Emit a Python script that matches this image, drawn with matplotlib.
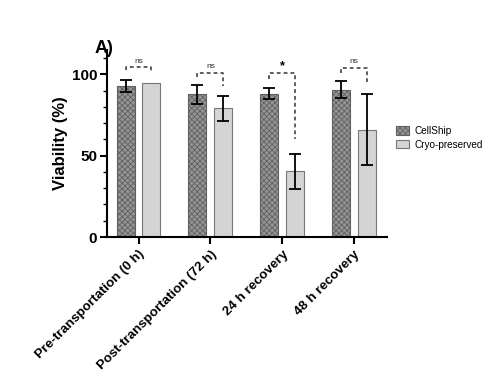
import matplotlib
matplotlib.use("Agg")
import matplotlib.pyplot as plt
import numpy as np
from matplotlib.ticker import MultipleLocator

# data
groups = ["Pre-transportation (0 h)", "Post-transportation (72 h)", "24 h recovery", "48 h recovery"]
cellship = [92.8, 87.6, 88.1, 90.4]
cellship_err = [3.4, 5.7, 3.3, 5.2]
cryo = [94.4, 79.0, 40.3, 65.8]
cryo_err = [0.0, 7.8, 10.5, 21.8]
sig_labels = ["ns", "ns", "*", "ns"]
bracket_top = [104.5, 101.0, 100.5, 104.0]
bracket_left_end = [102.5, 98.5, 97.0, 101.0]
bracket_right_end = [102.0, 93.0, 60.0, 95.5]

plt.rcParams['font.family'] = ['Arial', 'Liberation Sans', 'DejaVu Sans']
plt.rcParams['hatch.linewidth'] = 0.6
plt.rcParams['hatch.color'] = '#505050'

fig = plt.figure(figsize=(5.02, 3.78), dpi=100)
ax = fig.add_axes([0.213, 0.373, 0.558, 0.495])

x = np.arange(len(groups))
w = 0.25
off = 0.18

ax.bar(x - off, cellship, w, color='#959595', edgecolor='#606060', hatch='xxxxxx', linewidth=0.8,
       label='CellShip')
ax.bar(x + off, cryo, w, color='#d4d4d4', edgecolor='#777777', linewidth=0.8,
       label='Cryo-preserved')
ax.errorbar(x - off, cellship, yerr=cellship_err, fmt='none', ecolor='black', elinewidth=1.3, capsize=4, capthick=1.3)
err_idx = [i for i in range(len(groups)) if cryo_err[i] > 0]
ax.errorbar(x[err_idx] + off, np.array(cryo)[err_idx], yerr=np.array(cryo_err)[err_idx], fmt='none',
            ecolor='black', elinewidth=1.3, capsize=4, capthick=1.3)

for i in range(len(groups)):
    xl, xr = x[i] - off, x[i] + off
    ax.plot([xl, xl, xr, xr], [bracket_left_end[i], bracket_top[i], bracket_top[i], bracket_right_end[i]],
            ls=(0, (2.5, 2)), color='#333333', lw=1.1)
    if sig_labels[i] == "*":
        ax.text(x[i], bracket_top[i] + 1, sig_labels[i], ha='center', va='bottom', fontsize=9, fontweight='bold')
    else:
        ax.text(x[i], bracket_top[i] + 1.5, sig_labels[i], ha='center', va='bottom', fontsize=6, color='#333333')

ax.set_xlim(-0.44, 3.46)
ax.set_ylim(0, 115)
ax.set_yticks([0, 50, 100])
ax.yaxis.set_minor_locator(MultipleLocator(10))
ax.set_xticks(x)
ax.set_xticklabels(groups, rotation=45, ha='right', rotation_mode='anchor', fontsize=9.6, fontweight='bold')
for lab in ax.get_yticklabels():
    lab.set_fontweight('bold')
    lab.set_fontsize(11)
ax.set_ylabel("Viability (%)", fontsize=12, fontweight='bold', labelpad=3)

for s in ['top', 'right']:
    ax.spines[s].set_visible(False)
for s in ['left', 'bottom']:
    ax.spines[s].set_linewidth(1.5)
ax.tick_params(axis='both', which='major', width=1.5, length=5)
ax.tick_params(axis='x', which='major', pad=3)
ax.tick_params(axis='y', which='major', pad=2)
ax.tick_params(axis='y', which='minor', width=1.0, length=3)

ax.legend(loc='center left', bbox_to_anchor=(1.0, 0.53), frameon=False, fontsize=7.2,
          handlelength=1.3, handleheight=0.9, handletextpad=0.5, labelspacing=0.35)

fig.text(0.188, 0.86, "A)", fontsize=13, fontweight='bold')

fig.savefig("out.png", dpi=100)
